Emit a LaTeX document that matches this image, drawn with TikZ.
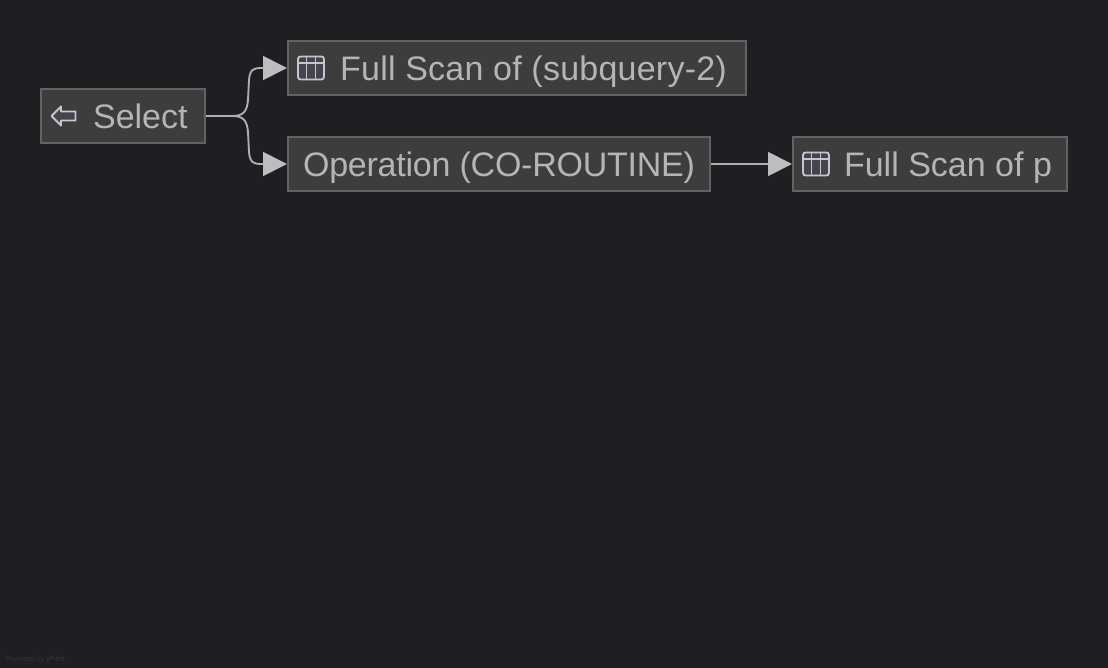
\documentclass[tikz,border=0pt]{standalone}
\usepackage{fontspec}
\setmainfont{Liberation Sans}
\usepackage{xcolor}
\usetikzlibrary{arrows.meta}
\definecolor{canvas}{HTML}{1E1F22}
\definecolor{boxfill}{HTML}{3D3D3D}
\definecolor{boxline}{HTML}{626262}
\definecolor{boxtext}{HTML}{B4B4B9}
\definecolor{edgeline}{HTML}{B0B0B0}
\definecolor{edgetip}{HTML}{BDBDBD}
\definecolor{iconline}{HTML}{C6C7CE}
\definecolor{iconfill}{HTML}{44454C}
\definecolor{faint}{HTML}{34353A}
\tikzset{
  opbox/.style={draw=boxline,fill=boxfill,text=boxtext,line width=1.3pt,inner sep=0pt,
    minimum height=40.7pt,text height=20pt,text depth=2pt,font=\fontsize{25.5pt}{28pt}\selectfont},
  edge/.style={line width=1.4pt,edgeline,-{Triangle[length=18pt,width=18pt,color=edgetip]}},
  tableicon/.pic={
    \draw[iconline,fill=iconfill,line width=1.4pt,rounded corners=2pt] (-13,-11.5) rectangle (13,11.5);
    \draw[iconline,line width=1.4pt] (-13,-5) -- (13,-5) (-4.5,-11.5) -- (-4.5,11.5) (4.5,-11.5) -- (4.5,11.5);
  }
}
\begin{document}
\begin{tikzpicture}[x=0.75pt,y=-0.75pt]
	\useasboundingbox[fill=canvas] (0,0) rectangle (1108,668);
	\path
	(123,116) coordinate (1)
	(517,68) coordinate (2)
	(499,164) coordinate (3)
	(930,164) coordinate (4)
	;

	\draw
	(1) node[opbox,minimum width=123.2pt] (select) {\hspace*{26pt}Select}
	(2) node[opbox,minimum width=343.7pt] (scansub) {\hspace*{24.75pt}\addfontfeature{LetterSpace=0.7}Full Scan of (subquery-2)}
	(3) node[opbox,minimum width=316.7pt] (coroutine) {\addfontfeature{LetterSpace=-0.7}Operation (CO-ROUTINE)}
	(4) node[opbox,minimum width=205.7pt] (scanp) {\hspace*{27pt}Full Scan of p}
	;

	\draw[edge] (select.east) -- (232,116) .. controls (243,116) and (247,112) .. (248,100)
		-- (249,80) .. controls (250,70) and (252,68) .. (262,68) -- (scansub.west);
	\draw[edge] (select.east) -- (232,116) .. controls (243,116) and (247,120) .. (248,132)
		-- (249,152) .. controls (250,162) and (252,164) .. (262,164) -- (coroutine.west);
	\draw[edge] (coroutine.east) -- (scanp.west);

	\draw[iconline,fill=iconfill,line width=1.4pt,line join=round]
		(51.5,116) -- (61,106.5) -- (61,111.5) -- (75.5,111.5) -- (75.5,120.5) -- (61,120.5) -- (61,125.5) -- cycle;
	\pic at (311,68) {tableicon};
	\pic at (816,164) {tableicon};

	\node[anchor=west,inner sep=0pt,text=faint,font=\fontsize{5.5pt}{6pt}\selectfont] (credit) at (5,660) {Powered by yFiles};
\end{tikzpicture}
\end{document}
